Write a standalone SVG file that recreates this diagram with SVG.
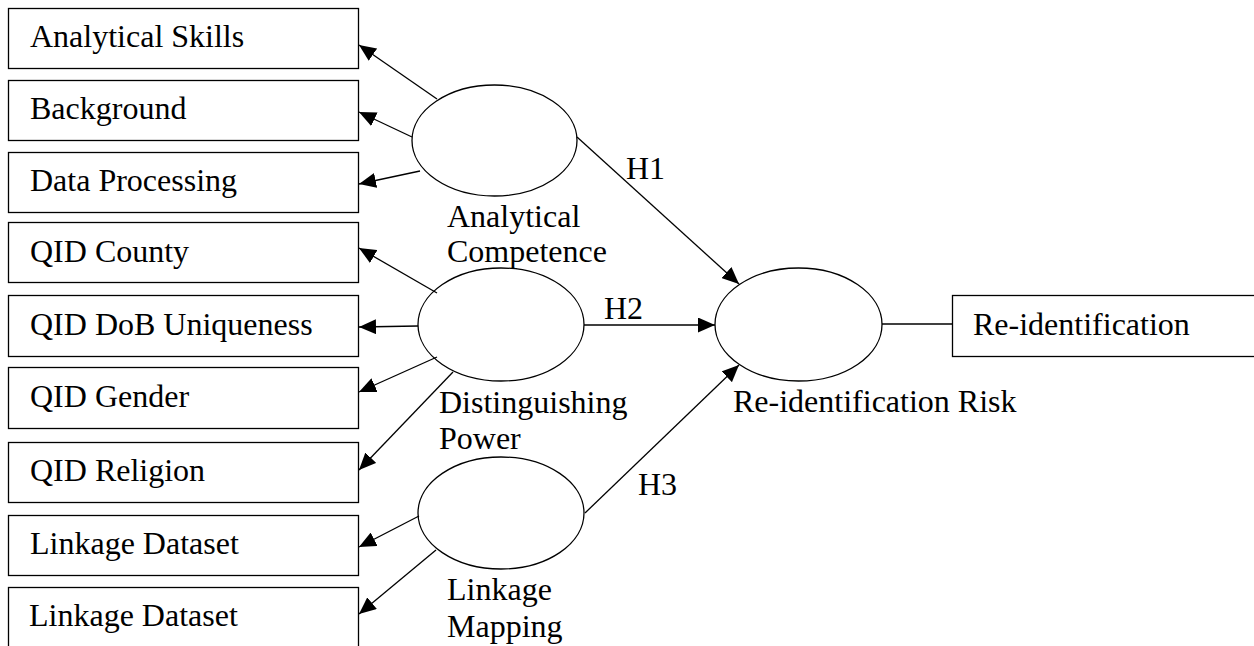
<svg xmlns="http://www.w3.org/2000/svg" width="1254" height="646" viewBox="0 0 1254 646">
  <style>
    .box { fill: #fff; stroke: #000; stroke-width: 1.3; }
    .latent { fill: #fff; stroke: #000; stroke-width: 1.3; }
    .lbl { font-family: "Liberation Serif", "Times New Roman", serif; font-size: 32px; fill: #000; }
    .conn line { stroke: #000; stroke-width: 1.3; }
  </style>
  <defs>
    <marker id="arrow" markerUnits="userSpaceOnUse" markerWidth="17" markerHeight="15" refX="17" refY="7.5" orient="auto">
      <path d="M0,0 L17,7.5 L0,15 z" fill="#000"/>
    </marker>
  </defs>
  <rect width="1254" height="646" fill="#fff"/>

  <!-- indicator boxes -->
  <g id="analytical-skills"><rect class="box" x="8.5" y="8.5" width="350" height="60"/><text class="lbl" x="30" y="47">Analytical Skills</text></g>
  <g id="background"><rect class="box" x="8.5" y="80.5" width="350" height="60"/><text class="lbl" x="30" y="119">Background</text></g>
  <g id="data-processing"><rect class="box" x="8.5" y="152.5" width="350" height="60"/><text class="lbl" x="30" y="191">Data Processing</text></g>
  <g id="qid-county"><rect class="box" x="8.5" y="222.5" width="350" height="60"/><text class="lbl" x="30" y="262">QID County</text></g>
  <g id="qid-dob"><rect class="box" x="8.5" y="295.5" width="350" height="61"/><text class="lbl" x="30" y="335">QID DoB Uniqueness</text></g>
  <g id="qid-gender"><rect class="box" x="8.5" y="367.5" width="350" height="61"/><text class="lbl" x="30" y="407">QID Gender</text></g>
  <g id="qid-religion"><rect class="box" x="8.5" y="442.5" width="350" height="60"/><text class="lbl" x="30" y="481">QID Religion</text></g>
  <g id="linkage-dataset-1"><rect class="box" x="8.5" y="515.5" width="350" height="60"/><text class="lbl" x="30" y="554">Linkage Dataset</text></g>
  <g id="linkage-dataset-2"><rect class="box" x="8.5" y="587.5" width="350" height="80"/><text class="lbl" x="29" y="626">Linkage Dataset</text></g>

  <!-- latent constructs -->
  <g id="analytical-competence">
    <ellipse class="latent" cx="494.5" cy="140.5" rx="82.5" ry="55.5"/>
    <text class="lbl" x="447" y="227">Analytical</text>
    <text class="lbl" x="447" y="262">Competence</text>
  </g>
  <g id="distinguishing-power">
    <ellipse class="latent" cx="501" cy="324.5" rx="83" ry="56.5"/>
    <text class="lbl" x="439" y="413">Distinguishing</text>
    <text class="lbl" x="439" y="449">Power</text>
  </g>
  <g id="linkage-mapping">
    <ellipse class="latent" cx="501" cy="513" rx="83" ry="56"/>
    <text class="lbl" x="447" y="600">Linkage</text>
    <text class="lbl" x="447" y="637">Mapping</text>
  </g>
  <g id="reidentification-risk">
    <ellipse class="latent" cx="798.5" cy="324.5" rx="83.5" ry="56.5"/>
    <text class="lbl" x="733" y="412">Re-identification Risk</text>
  </g>

  <!-- outcome indicator -->
  <g id="reidentification">
    <rect class="box" x="952.5" y="295.5" width="320" height="61"/>
    <text class="lbl" x="973" y="335">Re-identification</text>
  </g>

  <!-- connectors -->
  <g id="connectors" class="conn">
    <line x1="437" y1="99" x2="359" y2="45" marker-end="url(#arrow)"/>
    <line x1="412" y1="137" x2="359" y2="112" marker-end="url(#arrow)"/>
    <line x1="420" y1="171" x2="359" y2="184" marker-end="url(#arrow)"/>
    <line x1="437" y1="293" x2="359" y2="248" marker-end="url(#arrow)"/>
    <line x1="418" y1="326" x2="359" y2="327" marker-end="url(#arrow)"/>
    <line x1="437" y1="357" x2="359" y2="392" marker-end="url(#arrow)"/>
    <line x1="453" y1="372" x2="359" y2="470" marker-end="url(#arrow)"/>
    <line x1="419" y1="516" x2="359" y2="547" marker-end="url(#arrow)"/>
    <line x1="436" y1="550" x2="359" y2="614" marker-end="url(#arrow)"/>
    <line x1="577" y1="137" x2="739" y2="284" marker-end="url(#arrow)"/>
    <line x1="584" y1="325" x2="715" y2="325" marker-end="url(#arrow)"/>
    <line x1="585" y1="513" x2="739" y2="365" marker-end="url(#arrow)"/>
    <line x1="882" y1="324" x2="952" y2="324"/>
  </g>

  <!-- path labels -->
  <g id="path-labels">
    <text class="lbl" x="626" y="179">H1</text>
    <text class="lbl" x="604" y="319">H2</text>
    <text class="lbl" x="638" y="495">H3</text>
  </g>
</svg>
